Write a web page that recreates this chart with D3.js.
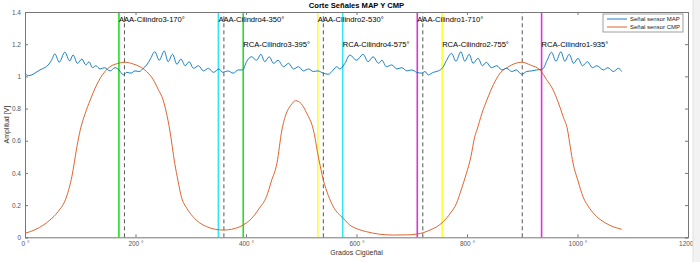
<!DOCTYPE html>
<html lang="es">
<head>
<meta charset="UTF-8">
<title>Corte Señales MAP Y CMP</title>
<script src="https://cdn.jsdelivr.net/npm/d3@7"></script>
<style>
    body{ margin:0px; background:white; }
    text{ font-family:"Liberation Sans", Arial, sans-serif; }
</style>
</head>
<body>
<svg id="graf"></svg>
<script>
    // señal MAP (grados, voltios)
    const mapGrados = [0,6,12,20,27,36,42,48,54,62,72,81,87,95,103,110,116,122,128,136,144,154,163,170,178,184,192,199,207,214,220,226,235,243,252,259,267,275,282,290,297,305,314,323,332,341,351,358,367,377,386,394,401,410,419,427,434,442,450,458,468,477,486,495,504,513,522,530,540,549,558,564,570,579,588,600,612,621,630,640,646,654,664,673,682,691,700,709,718,724,730,739,748,756,763,772,780,789,796,804,811,820,828,835,844,854,863,872,881,889,899,908,917,926,937,945,953,961,970,977,985,993,1001,1009,1018,1027,1035,1047,1055,1065,1074,1080];
    const mapVolt = [1.02,1.005,1.009,1.025,1.04,1.055,1.071,1.10,1.14,1.088,1.15,1.096,1.133,1.081,1.108,1.071,1.091,1.054,1.066,1.046,1.054,1.034,1.054,1.04,1.01,1.025,1.02,1.034,1.03,1.05,1.07,1.102,1.153,1.10,1.158,1.091,1.137,1.075,1.108,1.066,1.091,1.05,1.066,1.034,1.05,1.025,1.046,1.025,1.034,1.02,1.04,1.04,1.091,1.122,1.10,1.137,1.091,1.122,1.081,1.10,1.06,1.081,1.046,1.06,1.034,1.046,1.03,1.034,1.02,1.013,1.04,1.06,1.046,1.081,1.133,1.10,1.137,1.091,1.122,1.081,1.10,1.06,1.071,1.046,1.054,1.034,1.04,1.025,1.02,1.03,1.009,1.025,1.034,1.054,1.10,1.143,1.094,1.153,1.094,1.137,1.081,1.112,1.066,1.088,1.054,1.066,1.04,1.05,1.03,1.04,1.013,1.03,1.034,1.04,1.046,1.10,1.15,1.094,1.153,1.094,1.137,1.081,1.112,1.066,1.091,1.054,1.066,1.04,1.054,1.03,1.05,1.03];

    // señal CMP
    const cmpGrados = [0,20,45,60,75,85,94,100,109,118,136,154,168,181,195,208,220,232,241,250,262,271,277,283,293,304,316,329,344,359,374,389,401,413,424,437,446,456,465,473,481,490,500,510,522,531,540,549,558,576,588,603,618,640,667,690,709,722,733,745,757,770,781,790,799,807,814,818,827,836,848,860,875,887,899,915,932,944,956,965,974,982,987,992,1001,1010,1022,1035,1050,1065,1080];
    const cmpVolt = [0.025,0.05,0.107,0.16,0.25,0.38,0.563,0.667,0.77,0.853,0.988,1.06,1.08,1.088,1.078,1.06,1.03,0.98,0.92,0.853,0.667,0.46,0.35,0.252,0.18,0.128,0.09,0.066,0.05,0.045,0.05,0.066,0.09,0.128,0.18,0.252,0.35,0.46,0.667,0.77,0.82,0.849,0.83,0.77,0.667,0.5,0.356,0.26,0.19,0.118,0.076,0.05,0.035,0.02,0.014,0.015,0.02,0.03,0.045,0.065,0.097,0.15,0.211,0.3,0.398,0.5,0.625,0.667,0.77,0.853,0.95,1.02,1.06,1.08,1.088,1.07,1.04,0.98,0.915,0.84,0.75,0.667,0.56,0.46,0.35,0.252,0.18,0.128,0.09,0.065,0.05];

    // marcas verticales (AAA arriba, RCA abajo)
    const aaaGrados = [170,350,530,710];
    const aaaTexto = ["AAA-Cilindro3-170°","AAA-Cilindro4-350°","AAA-Cilindro2-530°","AAA-Cilindro1-710°"];
    const rcaGrados = [395,575,755,935];
    const rcaTexto = ["RCA-Cilindro3-395°","RCA-Cilindro4-575°","RCA-Cilindro2-755°","RCA-Cilindro1-935°"];
    const coloresCil = ["#22dd22","#33e6f0","#ffff33","#dd33dd"];
    const puntosMuertos = [180,360,540,720,900];

    const ticksX = [0,200,400,600,800,1000,1200];
    const ticksY = [0,0.2,0.4,0.6,0.8,1,1.2,1.4];
    const leyenda = ["Señal sensor MAP","Señal sensor CMP"];

    const w = 700, h = 262;
    const m = {left:25, right:12, top:12, bottom:24.7};

    const svg = d3.select('#graf').attr('width',w).attr('height',h);
    svg.append('rect').attr('width',w).attr('height',h).attr('fill','white');

    const x = d3.scaleLinear().domain([0,1200]).range([m.left, w-m.right]);
    const y = d3.scaleLinear().domain([0,1.4]).range([h-m.bottom, m.top]);

    //lineas verticales
    const gV = svg.append('g');
    aaaGrados.forEach((g,i)=>{
        gV.append('line').attr('x1',x(g)).attr('x2',x(g)).attr('y1',y(0)).attr('y2',y(1.4))
            .attr('stroke',coloresCil[i]).attr('stroke-width',1.6);
    });
    rcaGrados.forEach((g,i)=>{
        gV.append('line').attr('x1',x(g)).attr('x2',x(g)).attr('y1',y(0)).attr('y2',y(1.4))
            .attr('stroke',coloresCil[i]).attr('stroke-width',1.6);
    });
    puntosMuertos.forEach(g=>{
        gV.append('line').attr('x1',x(g)).attr('x2',x(g)).attr('y1',y(0)).attr('y2',y(1.4))
            .attr('stroke','#555').attr('stroke-width',1).attr('stroke-dasharray','4,3');
    });

    //curvas
    const linea = d3.line().x(d=>x(d[0])).y(d=>y(d[1])).curve(d3.curveMonotoneX);
    svg.append('path').datum(cmpGrados.map((g,i)=>[g,cmpVolt[i]]))
        .attr('d',linea).attr('fill','none').attr('stroke','#D95319').attr('stroke-width',0.9);
    svg.append('path').datum(mapGrados.map((g,i)=>[g,mapVolt[i]]))
        .attr('d',linea).attr('fill','none').attr('stroke','#0072BD').attr('stroke-width',0.9);

    //textos de las marcas
    aaaGrados.forEach((g,i)=>{
        svg.append('text').attr('x',x(g)).attr('y',22).attr('font-size','7.6px').attr('fill','black').text(aaaTexto[i]);
    });
    rcaGrados.forEach((g,i)=>{
        svg.append('text').attr('x',x(g)).attr('y',47).attr('font-size','7.6px').attr('fill','black').text(rcaTexto[i]);
    });

    //ejes
    const cEje = '#777';
    const ejeX = svg.append('g').attr('transform','translate(0,'+y(0)+')')
        .call(d3.axisBottom(x).tickValues(ticksX).tickSize(-3).tickPadding(4).tickFormat(d=>d+' °'));
    const ejeXsup = svg.append('g').attr('transform','translate(0,'+y(1.4)+')')
        .call(d3.axisTop(x).tickValues(ticksX).tickSize(-3).tickFormat(''));
    const ejeY = svg.append('g').attr('transform','translate('+x(0)+',0)')
        .call(d3.axisLeft(y).tickValues(ticksY).tickSize(-3).tickPadding(4).tickFormat(d3.format('')));
    const ejeYder = svg.append('g').attr('transform','translate('+x(1200)+',0)')
        .call(d3.axisRight(y).tickValues(ticksY).tickSize(-3).tickFormat(''));
    [ejeX,ejeXsup,ejeY,ejeYder].forEach(e=>{
        e.select('.domain').attr('stroke',cEje);
        e.selectAll('.tick line').attr('stroke',cEje);
        e.selectAll('.tick text').attr('fill','#555').attr('font-size','6.5px')
            .attr('font-family','"Liberation Sans", Arial, sans-serif');
    });

    //titulos
    svg.append('text').attr('x',(x(0)+x(1200))/2).attr('y',8).attr('text-anchor','middle')
        .attr('font-size','7.6px').attr('font-weight','bold').text('Corte Señales MAP Y CMP');
    svg.append('text').attr('x',(x(0)+x(1200))/2).attr('y',255).attr('text-anchor','middle')
        .attr('font-size','7px').attr('fill','#333').text('Grados Cigüeñal');
    svg.append('text').attr('transform','translate(9,'+((y(0)+y(1.4))/2)+') rotate(-90)')
        .attr('text-anchor','middle').attr('font-size','7px').attr('fill','#333').text('Amplitud [V]');

    //leyenda
    const gL = svg.append('g').attr('transform','translate(603,14)');
    gL.append('rect').attr('width',80).attr('height',18).attr('fill','white').attr('stroke','#888').attr('stroke-width',0.8);
    ['#0072BD','#D95319'].forEach((c,i)=>{
        gL.append('line').attr('x1',4).attr('x2',24).attr('y1',5+i*8).attr('y2',5+i*8).attr('stroke',c).attr('stroke-width',0.9);
        gL.append('text').attr('x',27).attr('y',7.2+i*8).attr('font-size','6px').attr('fill','#222').text(leyenda[i]);
    });

    //borde derecho de la figura
    svg.append('rect').attr('x',693).attr('y',0).attr('width',7).attr('height',h).attr('fill','#f2f2f2');
    svg.append('line').attr('x1',693).attr('x2',693).attr('y1',0).attr('y2',h).attr('stroke','#e0e0e0');
</script>
</body>
</html>
